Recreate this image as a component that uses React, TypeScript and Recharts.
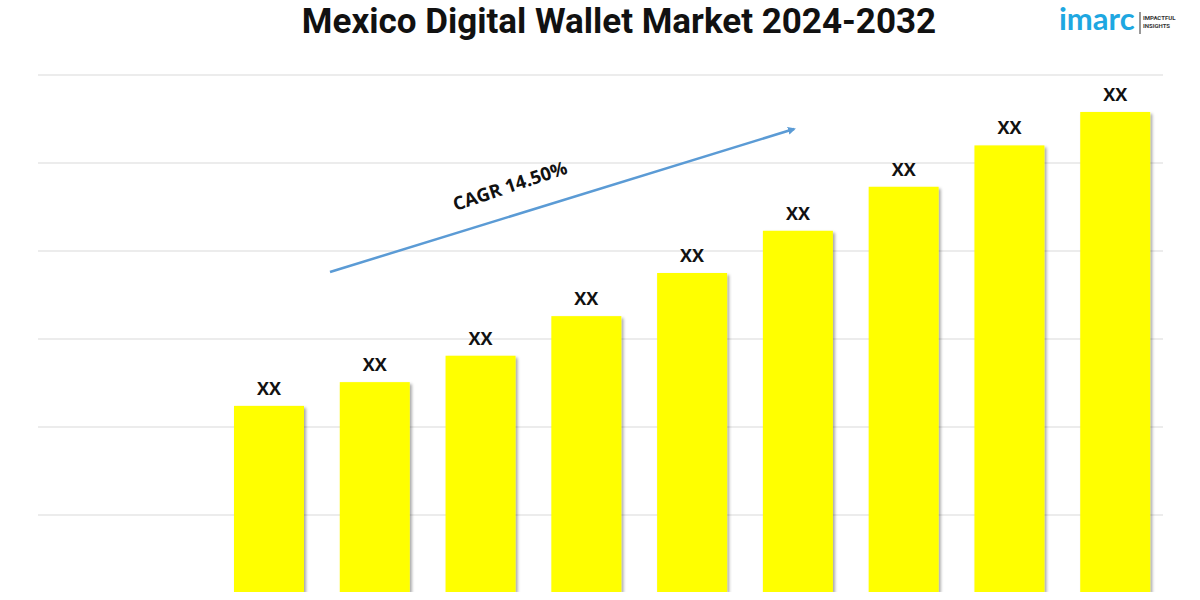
import { Bar, BarChart, CartesianGrid, LabelList, XAxis, YAxis } from 'recharts';

// Mexico digital wallet market (relative units)
const years = ['2024', '2025', '2026', '2027', '2028', '2029', '2030', '2031', '2032'];
const marketSize = [224, 251, 281, 326, 375, 423, 473, 520, 558];
const valueLabels = ['XX', 'XX', 'XX', 'XX', 'XX', 'XX', 'XX', 'XX', 'XX'];
const gridTicks = [100, 200, 300, 400, 500, 600];
const cagrText = 'CAGR 14.50%';

const data = years.map((year, i) => ({
  year,
  value: marketSize[i],
  label: valueLabels[i],
}));

const ShadowBar = (props: any) => {
  const { x, y, width, height } = props;
  return (
    <rect
      x={x}
      y={y}
      width={width}
      height={height}
      fill="#FFFF00"
      filter="url(#barShadow)"
    />
  );
};

// skip the line on the plot's bottom edge, the reference has none there
const GridLine = (props: any) => {
  const { x1, x2, y1, y2 } = props;
  if (y1 > 585) return <g />;
  return <line x1={x1} x2={x2} y1={y1} y2={y2} stroke="#d9d9d9" strokeWidth={1.2} />;
};

const App = () => {
  return (
    <div
      style={{
        position: 'absolute',
        left: 0,
        top: 0,
        width: 1200,
        height: 600,
        background: '#fff',
        overflow: 'hidden',
        fontFamily: 'Roboto, sans-serif',
      }}
    >
      <div
        style={{
          position: 'absolute',
          left: 0,
          top: 1,
          width: 1238,
          textAlign: 'center',
          fontSize: 35,
          fontWeight: 700,
          color: '#111',
          whiteSpace: 'nowrap',
          lineHeight: '42px',
        }}
      >
        Mexico Digital Wallet Market 2024-2032
      </div>

      <div style={{ position: 'absolute', left: 0, top: 0 }}>
        <BarChart
          width={1200}
          height={600}
          data={data}
          margin={{ top: 75, right: 37, left: 38, bottom: 8 }}
        >
          <defs>
            <filter id="barShadow" x="-10%" y="-10%" width="130%" height="130%">
              <feDropShadow dx="2" dy="2" stdDeviation="1.5" floodColor="#000" floodOpacity="0.35" />
            </filter>
          </defs>
          <CartesianGrid vertical={false} horizontal={GridLine} />
          <XAxis dataKey="year" hide padding={{ left: 178, right: -5 }} />
          <YAxis
            hide
            type="number"
            domain={[12.5, 600]}
            ticks={gridTicks}
            allowDataOverflow
          />
          <Bar
            dataKey="value"
            barSize={70}
            fill="#FFFF00"
            shape={ShadowBar}
            isAnimationActive={false}
          >
            <LabelList
              dataKey="label"
              position="top"
              offset={11}
              fill="#111"
              fontSize={18}
              fontWeight={700}
              fontFamily="'Open Sans', sans-serif"
            />
          </Bar>
        </BarChart>
      </div>

      <svg
        width={1200}
        height={600}
        style={{ position: 'absolute', left: 0, top: 0, pointerEvents: 'none' }}
      >
        <defs>
          <marker
            id="arrowHead"
            markerWidth="8"
            markerHeight="8"
            refX="6"
            refY="4"
            orient="auto"
            markerUnits="userSpaceOnUse"
          >
            <path d="M0,0 L8,4 L0,8 Z" fill="#5b9bd5" />
          </marker>
        </defs>
        <line
          x1={330}
          y1={272}
          x2={794}
          y2={129}
          stroke="#5b9bd5"
          strokeWidth={2.5}
          markerEnd="url(#arrowHead)"
        />
        <text
          x={512}
          y={192}
          textAnchor="middle"
          transform="rotate(-18.5 512 192)"
          fontFamily="'Open Sans', sans-serif"
          fontSize={18.5}
          fontWeight={700}
          fill="#111"
        >
          {cagrText}
        </text>

        {/* logo */}
        <text
          x={1059}
          y={30}
          fontFamily="Lato, sans-serif"
          fontSize={31}
          fontWeight={700}
          fill="#1ea7e1"
        >
          imarc
        </text>
        <line x1={1140} y1={12} x2={1140} y2={34} stroke="#333" strokeWidth={1} />
        <text x={1143} y={20} fontFamily="Roboto, sans-serif" fontSize={6} fontWeight={700} fill="#333">
          IMPACTFUL
        </text>
        <text x={1143} y={28} fontFamily="Roboto, sans-serif" fontSize={6} fontWeight={700} fill="#333">
          INSIGHTS
        </text>
      </svg>
    </div>
  );
};

export default App;
